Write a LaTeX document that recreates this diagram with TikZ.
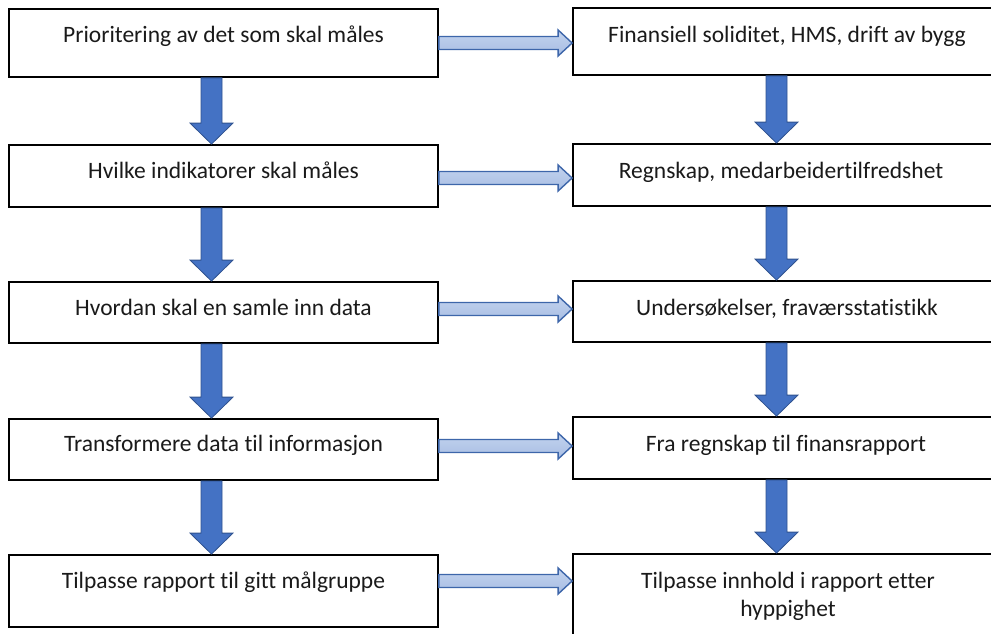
\documentclass[tikz,border=0pt]{standalone}
\usepackage{fontspec}
\setmainfont{Carlito}[Ligatures={NoCommon}]
\usetikzlibrary{calc}
\definecolor{dblue}{HTML}{4472C4}
\definecolor{dborder}{HTML}{2F528F}
\definecolor{htop}{HTML}{C3D3EE}
\definecolor{hmid}{HTML}{DAE4F5}
\definecolor{hbot}{HTML}{A7BDE3}
\definecolor{hborder}{HTML}{3D66AA}
\definecolor{txtcol}{HTML}{1A1A1A}
\tikzset{
  box/.style={draw=black, line width=1.8pt, fill=white, inner sep=0pt},
  txt/.style={text=txtcol, font=\fontsize{23.5}{28}\selectfont, inner sep=0pt},
  darrow/.style={fill=dblue, draw=dborder, line width=0.8pt, line join=miter},
  harrow/.style={top color=htop, middle color=hmid, bottom color=hbot, draw=hborder, line width=1.4pt, line join=miter}
}
\newcommand\mydarrow[3]{%
  \path[darrow] let \p1=(#1.south), \p2=(#2.north) in
    ({#3pt-10.5pt},\y1) -- ({#3pt-10.5pt},{\y2+21pt}) -- ({#3pt-21.5pt},{\y2+21pt}) --
    ({#3pt},\y2) -- ({#3pt+21.5pt},{\y2+21pt}) -- ({#3pt+10.5pt},{\y2+21pt}) --
    ({#3pt+10.5pt},\y1) -- cycle;}
\newcommand\myharrow[3]{%
  \path[harrow] let \p1=(#1.east), \p2=(#2.west) in
    (\x1,{#3pt+6.5pt}) -- ({\x2-14pt},{#3pt+6.5pt}) -- ({\x2-14pt},{#3pt+13pt}) --
    (\x2,{#3pt}) -- ({\x2-14pt},{#3pt-13pt}) -- ({\x2-14pt},{#3pt-6.5pt}) --
    (\x1,{#3pt-6.5pt}) -- cycle;}
\begin{document}
\begin{tikzpicture}[x=1pt,y=1pt]
\useasboundingbox (0,0) rectangle (991,-634);
% left boxes
\node[box, minimum width=429pt, minimum height=68pt] (L1) at (223.5,-43) {};
\node[box, minimum width=429pt, minimum height=62pt] (L2) at (223.5,-176) {};
\node[box, minimum width=429pt, minimum height=61pt] (L3) at (223.5,-312.5) {};
\node[box, minimum width=429pt, minimum height=61pt] (L4) at (223.5,-449.5) {};
\node[box, minimum width=429pt, minimum height=72pt] (L5) at (223.5,-591) {};
% right boxes
\node[box, minimum width=424pt, minimum height=67pt] (R1) at (785,-41.5) {};
\node[box, minimum width=424pt, minimum height=62pt] (R2) at (785,-175) {};
\node[box, minimum width=424pt, minimum height=61pt] (R3) at (785,-311.5) {};
\node[box, minimum width=424pt, minimum height=62pt] (R4) at (785,-448) {};
\node[box, minimum width=424pt, minimum height=106pt] (R5) at (785,-607) {};
% down arrows
\mydarrow{L1}{L2}{211.5}
\mydarrow{L2}{L3}{211.5}
\mydarrow{L3}{L4}{211.5}
\mydarrow{L4}{L5}{211.5}
\mydarrow{R1}{R2}{776.5}
\mydarrow{R2}{R3}{776.5}
\mydarrow{R3}{R4}{776.5}
\mydarrow{R4}{R5}{776.5}
% horizontal arrows
\myharrow{L1}{R1}{-43}
\myharrow{L2}{R2}{-178}
\myharrow{L3}{R3}{-309}
\myharrow{L4}{R4}{-446}
\myharrow{L5}{R5}{-581}
% texts
\node[txt, anchor=base] (tL1) at (223.5,-43) {Prioritering av det som skal måles};
\node[txt, anchor=base] (tL2) at (223.5,-178) {Hvilke indikatorer skal måles};
\node[txt, anchor=base] (tL3) at (223.5,-315) {Hvordan skal en samle inn data};
\node[txt, anchor=base] (tL4) at (223.5,-451) {Transformere data til informasjon};
\node[txt, anchor=base] (tL5) at (223.5,-588) {Tilpasse rapport til gitt målgruppe};
\node[txt, anchor=base] (tR1) at (787,-43) {Finansiell soliditet, HMS, drift av bygg};
\node[txt, anchor=base] (tR2) at (781,-178) {Regnskap, medarbeidertilfredshet};
\node[txt, anchor=base] (tR3) at (787,-315) {Undersøkelser, fraværsstatistikk};
\node[txt, anchor=base] (tR4) at (786,-451) {Fra regnskap til finansrapport};
\node[txt, anchor=base, align=center] (tR5) at (788,-616) {Tilpasse innhold i rapport etter\\hyppighet};
\end{tikzpicture}
\end{document}
